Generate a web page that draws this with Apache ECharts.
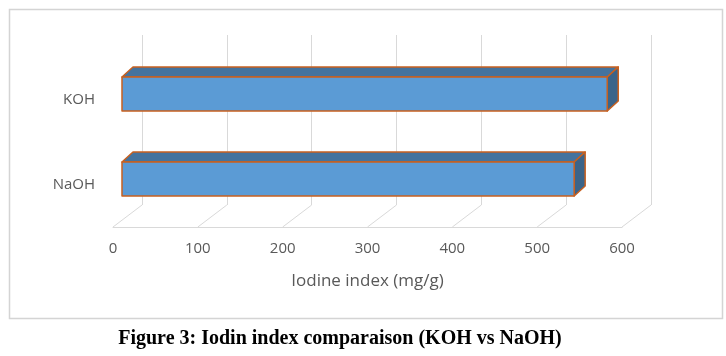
<!DOCTYPE html>
<html><head><meta charset="utf-8">
<script src="https://cdn.jsdelivr.net/npm/echarts@6/dist/echarts.min.js"></script>
<style>html,body{margin:0;padding:0;background:#fff}#c{width:726px;height:356px}</style>
</head><body><div id="c"></div>
<script>
// ---- data ----
const categories = ['NaOH', 'KOH'];
const iodineValues = [533, 572];
const xTicks = [0, 100, 200, 300, 400, 500, 600];
const axisTitle = 'Iodine index (mg/g)';
const caption = 'Figure 3: Iodin index comparaison (KOH vs NaOH)';

// ---- layout / style ----
const DX = -29, DY = 22;          // back wall -> front plane offset
const FRONT = {dx: -20, dy: 16.5}; // bar front face offset from back wall
const BACKF = {dx: -9, dy: 6.5};   // bar back face offset from back wall
const gridColor = '#d9d9d9';
const textColor = '#595959';
const uiFont = 'Open Sans';

const chart = echarts.init(document.getElementById('c'));

function barItem(params, api) {
  const v = api.value(0), cat = api.value(1);
  const s = api.coord([0, cat]), e = api.coord([v, cat]);
  const band = api.size([0, 1])[1];
  const h = band * 0.4;
  const yTF = s[1] + FRONT.dy - h / 2, yBF = s[1] + FRONT.dy + h / 2;
  const yTB = s[1] + BACKF.dy - h / 2, yBB = s[1] + BACKF.dy + h / 2;
  const x0F = s[0] + FRONT.dx, x1F = e[0] + FRONT.dx;
  const x0B = s[0] + BACKF.dx, x1B = e[0] + BACKF.dx;
  const stroke = {stroke: '#C8601F', lineWidth: 1.5, lineJoin: 'round'};
  return {type: 'group', children: [
    {type: 'polygon', shape: {points: [[x0F, yTF], [x1F, yTF], [x1B, yTB], [x0B, yTB]]},
     style: Object.assign({fill: '#44739E'}, stroke)},
    {type: 'polygon', shape: {points: [[x1F, yTF], [x1B, yTB], [x1B, yBB], [x1F, yBF]]},
     style: Object.assign({fill: '#3B6489'}, stroke)},
    {type: 'rect', shape: {x: x0F, y: yTF, width: x1F - x0F, height: h},
     style: Object.assign({fill: '#5B9BD5'}, stroke)}
  ]};
}

function floorItem(params, api) {
  const t = api.value(0);
  const p = api.coord([t, 0]);
  const yb = params.coordSys.y + params.coordSys.height;
  return {type: 'line', shape: {x1: p[0], y1: yb, x2: p[0] + DX, y2: yb + DY},
          style: {stroke: gridColor, lineWidth: 1}};
}

chart.setOption({
  animation: false,
  backgroundColor: '#ffffff',
  grid: [
    {left: 142, top: 35, width: 509, height: 170},
    {left: 113, top: 57, width: 509, height: 170}
  ],
  xAxis: [
    {gridIndex: 0, type: 'value', min: 0, max: 600, interval: 100,
     axisLine: {show: false}, axisTick: {show: false}, axisLabel: {show: false},
     splitLine: {show: true, lineStyle: {color: gridColor, width: 1}}},
    {gridIndex: 1, type: 'value', min: 0, max: 600, interval: 100,
     axisLine: {show: true, lineStyle: {color: gridColor, width: 1}}, axisTick: {show: false},
     splitLine: {show: false},
     axisLabel: {color: textColor, fontSize: 15, fontFamily: uiFont, margin: 14},
     name: axisTitle, nameLocation: 'middle', nameGap: 46,
     nameTextStyle: {color: textColor, fontSize: 17, fontFamily: uiFont}}
  ],
  yAxis: [
    {gridIndex: 0, type: 'category', data: categories,
     axisLine: {show: false}, axisTick: {show: false}, axisLabel: {show: false}, splitLine: {show: false}},
    {gridIndex: 1, type: 'category', data: categories,
     axisLine: {show: false}, axisTick: {show: false}, splitLine: {show: false},
     axisLabel: {color: textColor, fontSize: 15, fontFamily: uiFont, margin: 18}}
  ],
  series: [
    {type: 'custom', xAxisIndex: 0, yAxisIndex: 0, renderItem: floorItem,
     data: xTicks.map(t => [t]), silent: true, z: 1},
    {type: 'custom', xAxisIndex: 0, yAxisIndex: 0, renderItem: barItem,
     data: iodineValues.map((v, i) => [v, i]), z: 5}
  ],
  graphic: [
    {type: 'rect', shape: {x: 9.5, y: 9.5, width: 713, height: 309},
     style: {fill: 'none', stroke: '#d4d4d4', lineWidth: 1.5}, z: 0},
    {type: 'text', x: 340, y: 339,
     style: {text: caption, fill: '#000', font: 'bold 20px "Liberation Serif", "Times New Roman", serif',
             textAlign: 'center', textVerticalAlign: 'middle'}}
  ]
});
</script></body></html>
